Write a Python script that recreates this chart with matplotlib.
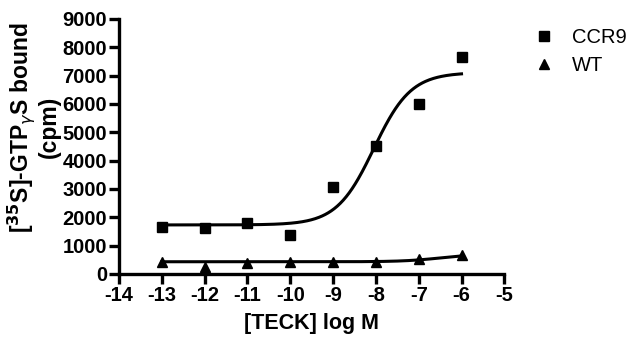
import numpy as np
import matplotlib.pyplot as plt

plt.rcParams['font.family'] = ['Liberation Sans', 'DejaVu Sans']
plt.rcParams['axes.unicode_minus'] = False

# log concentration of TECK (M)
log_conc = [-13, -12, -11, -10, -9, -8, -7, -6]

# [35S]-GTPyS binding (cpm)
ccr9_cpm = [1650, 1630, 1790, 1390, 3060, 4520, 5990, 7670]
wt_cpm = [435, 260, 380, 435, 435, 435, 520, 670]

# sigmoidal dose-response fit parameters: bottom, top, logEC50, hill slope
ccr9_fit = (1730, 7110, -8.05, 1.0)
wt_fit = (430, 700, -6.5, 1.0)


def dose_response(x, bottom, top, logec50, hill):
    return bottom + (top - bottom) / (1 + 10 ** ((logec50 - x) * hill))


fig = plt.figure(figsize=(6.4, 3.45), dpi=100)
ax = fig.add_axes([0.186, 0.206, 0.602, 0.739])

xs = np.linspace(-13, -6, 300)
ax.plot(xs, dose_response(xs, *ccr9_fit), color='black', lw=2.2)
ax.plot(xs, dose_response(xs, *wt_fit), color='black', lw=2.2)
sq, = ax.plot(log_conc, ccr9_cpm, 's', color='black', ms=7, label='CCR9')
tri, = ax.plot(log_conc, wt_cpm, '^', color='black', ms=7.5, label='WT')

ax.set_xlim(-14, -5)
ax.set_ylim(0, 9000)
ax.set_xticks(range(-14, -4))
ax.set_yticks(range(0, 9001, 1000))

for side in ['top', 'right']:
    ax.spines[side].set_visible(False)
for side in ['left', 'bottom']:
    ax.spines[side].set_linewidth(2.4)
ax.tick_params(width=2.4, length=7, labelsize=14.5, pad=1.5)
for lbl in ax.get_xticklabels() + ax.get_yticklabels():
    lbl.set_fontweight('bold')

ax.set_xlabel('[TECK] log M', fontsize=15.5, fontweight='bold', labelpad=6)
ax.set_ylabel('[$\\mathbf{^{35}}$S]-GTP$_{\\gamma}$S bound\n(cpm)',
              fontsize=16.5, fontweight='bold', linespacing=1.0)
ax.yaxis.set_label_coords(-0.152, 0.575)

ax.legend(handles=[sq, tri], loc='upper left', bbox_to_anchor=(1.03, 1.035),
          frameon=False, fontsize=14.5, handlelength=1.0, handletextpad=0.9,
          labelspacing=0.45)

fig.savefig('out.png', dpi=100)
